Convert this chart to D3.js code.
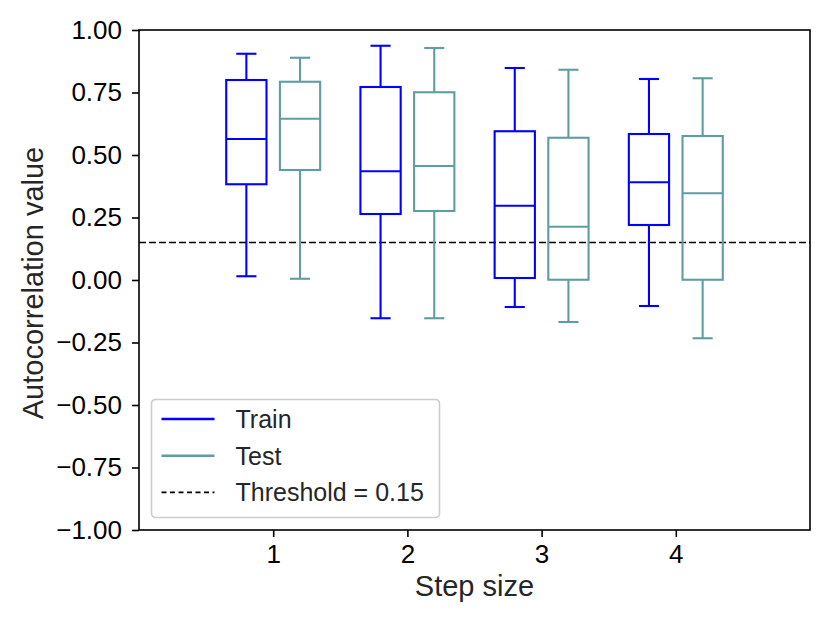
<!DOCTYPE html>
<html>
<head>
<meta charset="utf-8">
<script src="https://cdn.jsdelivr.net/npm/d3@7"></script>
<style>
  body { margin: 0; background: #fff; }
  svg text { font-family: "Liberation Sans", Arial, Helvetica, sans-serif; }
</style>
</head>
<body>
<svg width="830" height="623"></svg>
<script>
// step sizes on the x axis
const steps = [1, 2, 3, 4];

// box stats: low whisker, Q1, median, Q3, high whisker
const trainLow  = [0.015, -0.153, -0.108, -0.104];
const trainQ1   = [0.383,  0.264,  0.008,  0.220];
const trainMed  = [0.564,  0.435,  0.297,  0.391];
const trainQ3   = [0.800,  0.772,  0.595,  0.584];
const trainHigh = [0.905,  0.937,  0.848,  0.804];

const testLow  = [0.005, -0.153, -0.168, -0.233];
const testQ1   = [0.440,  0.276,  0.001,  0.001];
const testMed  = [0.645,  0.456,  0.213,  0.347];
const testQ3   = [0.793,  0.751,  0.569,  0.576];
const testHigh = [0.889,  0.928,  0.841,  0.807];

const threshold = 0.15;
const yTicks = [-1, -0.75, -0.5, -0.25, 0, 0.25, 0.5, 0.75, 1];

const svg = d3.select("svg");
const margin = {top: 30, right: 20, bottom: 93, left: 139};
const width = 830 - margin.left - margin.right,
      height = 623 - margin.top - margin.bottom;

const g = svg.append("g").attr("transform", "translate(" + margin.left + "," + margin.top + ")");

const x = d3.scaleLinear().domain([0, 5]).range([0, width]);
const y = d3.scaleLinear().domain([-1, 1]).range([height, 0]);

const fmt = d3.format(".2f");
const tickFmt = function(d) { return fmt(d).replace("-", "\u2212"); };

// axes
const yAxis = g.append("g")
    .call(d3.axisLeft(y).tickValues(yTicks).tickFormat(tickFmt).tickSize(7).tickPadding(10));
const xAxis = g.append("g")
    .attr("transform", "translate(0," + height + ")")
    .call(d3.axisBottom(x).tickValues(steps).tickFormat(d3.format("d")).tickSize(7).tickPadding(8));

[yAxis, xAxis].forEach(function(a) {
  a.select(".domain").remove();
  a.selectAll(".tick line").attr("stroke", "#000").attr("stroke-width", 1.6);
  a.selectAll(".tick text").attr("fill", "#000").style("font-size", "26px");
});

// frame
g.append("rect")
    .attr("width", width).attr("height", height)
    .attr("fill", "none").attr("stroke", "#000").attr("stroke-width", 1.6);

// threshold line
g.append("line")
    .attr("x1", 0).attr("x2", width)
    .attr("y1", y(threshold)).attr("y2", y(threshold))
    .attr("stroke", "#000").attr("stroke-width", 1.7)
    .attr("stroke-dasharray", "7,3");

// boxes
const boxW = x(0.3) - x(0);
function drawBoxes(offset, color, low, q1, med, q3, high) {
  const grp = g.append("g").attr("stroke", color).attr("stroke-width", 2.1).attr("fill", "none");
  steps.forEach(function(s, i) {
    const cx = x(s + offset);
    grp.append("line").attr("x1", cx).attr("x2", cx).attr("y1", y(low[i])).attr("y2", y(q1[i]));
    grp.append("line").attr("x1", cx).attr("x2", cx).attr("y1", y(q3[i])).attr("y2", y(high[i]));
    grp.append("line").attr("x1", cx - boxW / 4).attr("x2", cx + boxW / 4).attr("y1", y(low[i])).attr("y2", y(low[i]));
    grp.append("line").attr("x1", cx - boxW / 4).attr("x2", cx + boxW / 4).attr("y1", y(high[i])).attr("y2", y(high[i]));
    grp.append("rect")
        .attr("x", cx - boxW / 2).attr("width", boxW)
        .attr("y", y(q3[i])).attr("height", y(q1[i]) - y(q3[i]));
    grp.append("line").attr("x1", cx - boxW / 2).attr("x2", cx + boxW / 2).attr("y1", y(med[i])).attr("y2", y(med[i]));
  });
}
drawBoxes(-0.2, "#0000ff", trainLow, trainQ1, trainMed, trainQ3, trainHigh);
drawBoxes(0.2, "#5f9ea0", testLow, testQ1, testMed, testQ3, testHigh);

// axis labels
g.append("text")
    .attr("x", width / 2).attr("y", height + 66)
    .attr("text-anchor", "middle").attr("fill", "#262626")
    .style("font-size", "29px").text("Step size");
g.append("text")
    .attr("transform", "translate(" + (-96) + "," + (height / 2 + 3) + ") rotate(-90)")
    .attr("text-anchor", "middle").attr("fill", "#262626")
    .style("font-size", "29px").text("Autocorrelation value");

// legend
const legendItems = [
  {label: "Train", color: "#0000ff", dash: null, w: 2.5},
  {label: "Test", color: "#5f9ea0", dash: null, w: 2.5},
  {label: "Threshold = 0.15", color: "#000", dash: "5,3.5", w: 1.7}
];
const lg = g.append("g").attr("transform", "translate(12.5," + (height - 12.5 - 118) + ")");
lg.append("rect")
    .attr("width", 288).attr("height", 118).attr("rx", 4)
    .attr("fill", "#fff").attr("fill-opacity", 0.8)
    .attr("stroke", "#cccccc").attr("stroke-width", 1.6);
const row = lg.selectAll(".row").data(legendItems).enter().append("g")
    .attr("transform", function(d, i) { return "translate(0," + (19.5 + i * 36.7) + ")"; });
row.append("line")
    .attr("x1", 10).attr("x2", 63)
    .attr("stroke", function(d) { return d.color; })
    .attr("stroke-width", function(d) { return d.w; })
    .attr("stroke-dasharray", function(d) { return d.dash; });
row.append("text")
    .attr("x", 84).attr("dy", "0.36em")
    .attr("fill", "#262626").style("font-size", "25px")
    .text(function(d) { return d.label; });
</script>
</body>
</html>
